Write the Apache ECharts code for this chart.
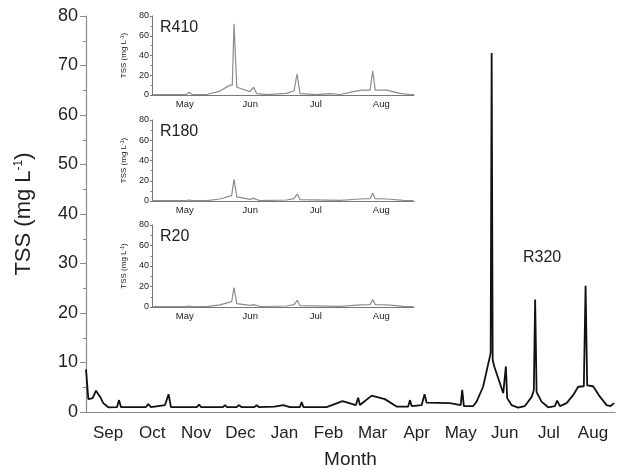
<!DOCTYPE html>
<html>
<head>
<meta charset="utf-8">
<script src="https://cdn.jsdelivr.net/npm/echarts@6/dist/echarts.min.js"></script>
<style>
  html, body { margin: 0; padding: 0; background: #fff; }
  #chart { width: 627px; height: 471px; }
</style>
</head>
<body>
<div id="chart"></div>
<script>
var months = ['Sep', 'Oct', 'Nov', 'Dec', 'Jan', 'Feb', 'Mar', 'Apr', 'May', 'Jun', 'Jul', 'Aug'];
var insetMonths = ['May', 'Jun', 'Jul', 'Aug'];
var yTicks = [0, 10, 20, 30, 40, 50, 60, 70, 80];

// R320, days since 1 Sep
var r320Day = [0, 1.6, 4.6, 6.9, 9.7, 11.9, 15.4, 21.4, 22.8, 24.1, 41.4, 43, 44.8, 54.5, 57, 58.6,
    76.6, 78, 79.3, 94.5, 95.9, 97.3, 104, 105.7, 107.2, 116.2, 117.7, 119.3, 130, 136.1, 140.7,
    147.6, 148.8, 150, 166, 177, 186.2, 187.8, 189, 197.1, 206.2, 214.3, 222.3, 223.5, 224.7,
    231.6, 233.6, 235, 251, 258.5, 259.6, 260.7, 267.2, 269.5, 274, 276.6, 279.2, 279.9, 280.6,
    281.7, 287.9, 289.7, 290.6, 293.6, 298.2, 302.8, 307.4, 309, 309.9, 310.9, 314.3, 318.9,
    323.5, 325.1, 327, 331.6, 336.1, 339.6, 343.5, 344.7, 345.8, 349.9, 354.6, 359.2, 361.9, 364.4];
var r320Tss = [8.6, 2.6, 2.8, 4.3, 3.1, 1.8, 0.95, 1.0, 2.4, 1.0, 1.0, 1.6, 1.0, 1.4, 3.6, 1.0,
    1.0, 1.5, 1.0, 1.0, 1.4, 1.0, 1.0, 1.4, 1.0, 1.0, 1.4, 1.0, 1.1, 1.4, 1.0,
    1.0, 2.0, 1.0, 1.0, 2.2, 1.4, 2.9, 1.4, 3.3, 2.6, 1.1, 1.1, 2.4, 1.2,
    1.4, 3.6, 1.9, 1.8, 1.4, 4.5, 1.2, 1.2, 2.1, 5.1, 8.5, 11.9, 72.5, 10.5,
    9.2, 3.8, 9.2, 2.8, 1.4, 0.9, 1.2, 3.0, 4.4, 22.7, 4.0, 2.1, 0.95,
    1.2, 2.3, 1.2, 1.8, 3.4, 5.1, 5.2, 25.5, 5.4, 5.2, 3.1, 1.4, 1.2, 1.8];

// insets, days since 1 May
var r410Day = [0.6, 16, 17.4, 18.8, 25.7, 31.9, 36.6, 37.7, 38.5, 39.8, 46, 47.7, 49.2, 53.9, 63.2,
    66.7, 68.1, 69.5, 77.3, 83.6, 88.3, 94.5, 98.5, 102.4, 103.6, 104.8, 110.2, 116.4, 121.1, 123];
var r410Tss = [0.3, 0.5, 2.7, 0.5, 0.5, 4, 10, 10, 72, 7.8, 3.4, 7.8, 1.3, 0.3, 1.7,
    4.3, 21.3, 1.3, 0.3, 1.3, 0.5, 3.4, 5, 5, 24.6, 5, 5, 1.7, 0.5, 0.5];

var r180Day = [0.6, 16, 17.4, 18.8, 25.7, 31.9, 37.4, 38.5, 39.8, 46, 47.7, 50.7, 63.2, 66.7, 68.2,
    69.5, 88.3, 97.7, 102.4, 103.6, 104.8, 110.2, 118, 122.7];
var r180Tss = [0.3, 0.3, 1, 0.3, 0.3, 2, 5.3, 21.7, 4, 1.6, 2.6, 0.3, 1, 2.3, 6.9,
    1.3, 0.7, 2, 2.3, 7.6, 2.3, 2, 0.7, 0.3];

var r20Day = [0.6, 16, 17.4, 18.8, 25.7, 31.9, 37.4, 38.5, 39.8, 46, 47.7, 50.7, 63.2, 66.7, 68.2,
    69.5, 88.3, 97.7, 102.4, 103.6, 104.8, 110.2, 118, 122.7];
var r20Tss = [0.3, 0.3, 1, 0.3, 0.3, 2, 5.2, 19, 3.3, 1.6, 2.3, 0.5, 1, 2.3, 6.5,
    1.3, 0.7, 2, 2.3, 7.2, 2.3, 2, 0.7, 0.3];

function pairs(xs, ys) {
    return xs.map(function (x, i) { return [x, ys[i]]; });
}

var font = 'Liberation Sans, Arial, sans-serif';
var insetTops = [16, 120, 225];
var insetHeights = [79, 81, 82];
var insetNames = ['R410', 'R180', 'R20'];
var insetData = [pairs(r410Day, r410Tss), pairs(r180Day, r180Tss), pairs(r20Day, r20Tss)];

// fixed grid boxes, no auto shrinking for labels
var grids = [{left: 86, right: 12, top: 16, height: 396, outerBoundsMode: 'none', containLabel: false}];
var xAxes = [
    {
        type: 'category', gridIndex: 0, data: months, boundaryGap: true,
        axisLine: {lineStyle: {color: '#8a8a8a', width: 1.2}},
        axisTick: {length: 8, lineStyle: {color: '#8a8a8a'}},
        axisLabel: {fontSize: 17, color: '#222', fontFamily: font, margin: 13},
        name: 'Month', nameLocation: 'middle', nameGap: 38,
        nameTextStyle: {fontSize: 19, color: '#222', fontFamily: font}
    },
    {type: 'value', gridIndex: 0, min: 0, max: 365, show: false}
];
var yAxes = [{
    type: 'value', gridIndex: 0, min: yTicks[0], max: yTicks[yTicks.length - 1], interval: 10,
    splitLine: {show: false},
    axisLine: {show: true, lineStyle: {color: '#8a8a8a', width: 1.2}},
    axisTick: {show: true, length: 6, lineStyle: {color: '#8a8a8a'}},
    minorTick: {show: true, splitNumber: 2, length: 3, lineStyle: {color: '#8a8a8a'}},
    axisLabel: {fontSize: 18, color: '#222', fontFamily: font, margin: 8},
    name: '{a|TSS (mg L}{s|-1}{a|)}', nameLocation: 'middle', nameGap: 51,
    nameTextStyle: {
        fontFamily: font, color: '#222',
        rich: {a: {fontSize: 22, fontFamily: font}, s: {fontSize: 12, fontFamily: font, verticalAlign: 'top'}}
    }
}];
var series = [{
    type: 'line', xAxisIndex: 1, yAxisIndex: 0, data: pairs(r320Day, r320Tss),
    showSymbol: false, lineStyle: {color: '#111', width: 1.8}, z: 5
}];
var graphics = [{
    type: 'text', left: 523, top: 250,
    style: {text: 'R320', fontSize: 16, fontFamily: font, fill: '#222'}
}];

for (var i = 0; i < 3; i++) {
    grids.push({left: 152, width: 262, top: insetTops[i], height: insetHeights[i], outerBoundsMode: 'none', containLabel: false});
    xAxes.push({
        type: 'category', gridIndex: i + 1, data: insetMonths, boundaryGap: true,
        axisLine: {lineStyle: {color: '#777', width: 1}},
        axisTick: {inside: true, length: 3, lineStyle: {color: '#777'}},
        axisLabel: {fontSize: 9.5, color: '#222', fontFamily: font, margin: 4}
    });
    xAxes.push({type: 'value', gridIndex: i + 1, min: 0, max: 123, show: false});
    yAxes.push({
        type: 'value', gridIndex: i + 1, min: 0, max: 80, interval: 20,
        splitLine: {show: false},
        axisLine: {show: true, lineStyle: {color: '#777', width: 1}},
        axisTick: {show: true, length: 2, lineStyle: {color: '#777'}},
        minorTick: {show: true, splitNumber: 2, length: 1.5, lineStyle: {color: '#777'}},
        axisLabel: {fontSize: 9, color: '#222', fontFamily: font, margin: 3},
        name: '{a|TSS (mg L}{s|-1}{a|)}', nameLocation: 'middle', nameGap: 24,
        nameTextStyle: {
            fontFamily: font, color: '#222',
            rich: {a: {fontSize: 8, fontFamily: font}, s: {fontSize: 5, fontFamily: font, verticalAlign: 'top'}}
        }
    });
    series.push({
        type: 'line', xAxisIndex: 2 * i + 3, yAxisIndex: i + 1, data: insetData[i],
        showSymbol: false, lineStyle: {color: '#8c8c8c', width: 1.2}
    });
    graphics.push({
        type: 'text', left: 160, top: insetTops[i] + 4,
        style: {text: insetNames[i], fontSize: 16, fontFamily: font, fill: '#222'}
    });
}

var chart = echarts.init(document.getElementById('chart'), null, {renderer: 'canvas'});
chart.setOption({
    animation: false,
    backgroundColor: '#fff',
    grid: grids,
    xAxis: xAxes,
    yAxis: yAxes,
    series: series,
    graphic: graphics
});
</script>
</body>
</html>
